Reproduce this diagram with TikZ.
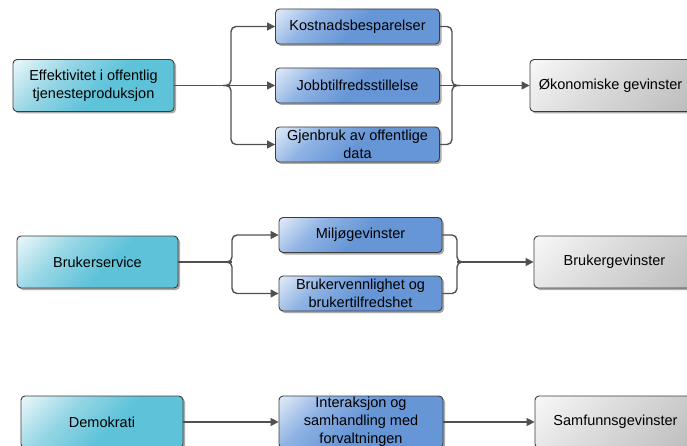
\documentclass[tikz,border=0pt]{standalone}
\usepackage{fontspec}
\setmainfont{Liberation Sans}
\usetikzlibrary{arrows.meta,shadows}
\definecolor{cyanL}{HTML}{E2F4F8}
\definecolor{cyanM}{HTML}{96D6E5}
\definecolor{cyanD}{HTML}{5EC2D9}
\definecolor{blueL}{HTML}{E0EAF7}
\definecolor{blueM}{HTML}{8FB3E4}
\definecolor{blueD}{HTML}{6796D6}
\definecolor{grayL}{HTML}{F6F6F6}
\definecolor{grayM}{HTML}{DCDCDC}
\definecolor{grayD}{HTML}{BCBCBC}
\definecolor{edge}{HTML}{3C3C3C}
\definecolor{conncol}{HTML}{505050}
\pgfdeclarehorizontalshading{cyansh}{100bp}{color(0bp)=(cyanL); color(17bp)=(cyanL); color(35bp)=(cyanM); color(55bp)=(cyanD); color(100bp)=(cyanD)}
\pgfdeclarehorizontalshading{bluesh}{100bp}{color(0bp)=(blueL); color(15bp)=(blueL); color(32bp)=(blueM); color(50bp)=(blueD); color(100bp)=(blueD)}
\pgfdeclarehorizontalshading{graysh}{100bp}{color(0bp)=(grayL); color(17bp)=(grayL); color(45bp)=(grayM); color(85bp)=(grayD); color(100bp)=(grayD)}
\tikzset{
  box/.style={draw=edge, line width=0.9pt, rounded corners=4pt, align=center,
    font=\fontsize{14.5}{18}\selectfont, inner sep=0pt,
    drop shadow={shadow xshift=2pt, shadow yshift=-2pt, fill=black!60, opacity=0.55}},
  srcbox/.style={box, minimum width=161pt, minimum height=52pt,
    shade, shading=cyansh, shading angle=-45},
  midbox/.style={box, minimum width=164pt, minimum height=35pt,
    shade, shading=bluesh, shading angle=-45},
  resbox/.style={box, minimum width=161pt, minimum height=52pt,
    shade, shading=graysh, shading angle=-45},
  conn/.style={draw=conncol, line width=1.4pt, rounded corners=5pt},
  arr/.style={conn, -{Triangle[length=8pt,width=8pt]}}
}
\begin{document}
\begin{tikzpicture}[x=1pt,y=-1pt]
\useasboundingbox (0,0) rectangle (687,446);
\clip (0,0) rectangle (687,446);
% Row 1
\node[srcbox] (eff) at (93.5,85.5) {Effektivitet i offentlig\\tjenesteproduksjon};
\node[midbox] (kost) at (357.5,26.5) {Kostnadsbesparelser};
\node[midbox] (jobb) at (357.5,85.5) {Jobbtilfredsstillelse};
\node[midbox] (gjen) at (357.5,144.5) {Gjenbruk av offentlige\\data};
\node[resbox] (oko) at (610.5,85.5) {Økonomiske gevinster};
\coordinate (b1) at (231,85.5);
\coordinate (m1) at (452,85.5);
\draw[conn] (eff.east) -- (b1);
\draw[arr] ([xshift=-8]b1) -- (b1) |- (kost.west);
\draw[arr] (b1) -- (jobb.west);
\draw[arr] ([xshift=-8]b1) -- (b1) |- (gjen.west);
\draw[conn] (kost.east) -| (m1) -- ([xshift=8]m1);
\draw[conn] (gjen.east) -| (m1) -- ([xshift=8]m1);
\draw[conn] (jobb.east) -- (m1);
\draw[arr] (m1) -- (oko.west);
% Row 2
\node[srcbox] (bruk) at (97.5,262) {Brukerservice};
\node[midbox, minimum width=163pt] (milj) at (360.5,235) {Miljøgevinster};
\node[midbox, minimum width=163pt] (bven) at (360.5,293.5) {Brukervennlighet og\\brukertilfredshet};
\node[resbox] (bgev) at (614.5,262) {Brukergevinster};
\coordinate (b2) at (232,262);
\coordinate (m2) at (457,262);
\draw[conn] (bruk.east) -- (b2);
\draw[arr] ([xshift=-8]b2) -- (b2) |- (milj.west);
\draw[arr] ([xshift=-8]b2) -- (b2) |- (bven.west);
\draw[conn] (milj.east) -| (m2) -- ([xshift=8]m2);
\draw[conn] (bven.east) -| (m2) -- ([xshift=8]m2);
\draw[arr] (m2) -- (bgev.west);
% Row 3
\node[srcbox, minimum width=162pt] (demo) at (102,422) {Demokrati};
\node[midbox, minimum height=52pt] (inter) at (361,422) {Interaksjon og\\samhandling med\\forvaltningen};
\node[resbox] (samf) at (615.5,422) {Samfunnsgevinster};
\draw[arr] (demo.east) -- (inter.west);
\draw[arr] (inter.east) -- (samf.west);
\end{tikzpicture}
\end{document}
